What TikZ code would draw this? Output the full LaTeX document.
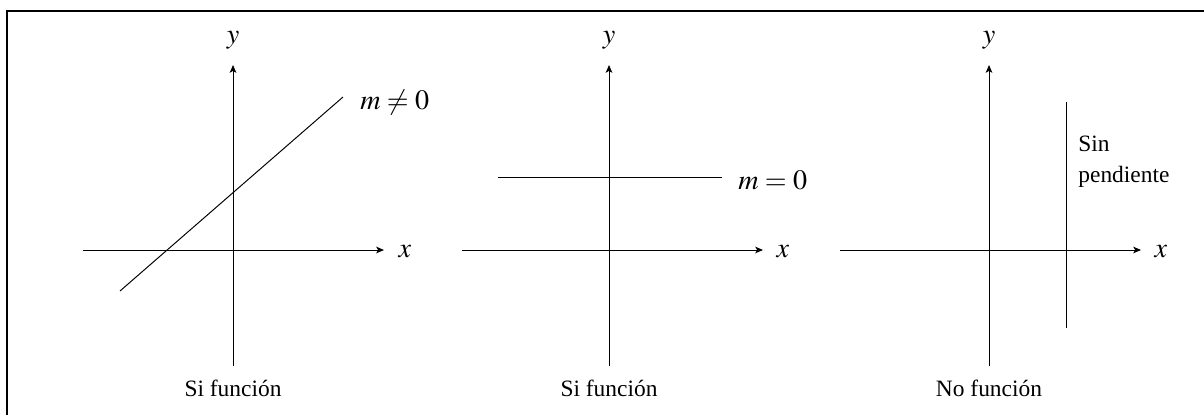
\documentclass[tikz,border=0pt]{standalone}
\usepackage{mathptmx}
\usepackage{fontspec}
\setmainfont{Liberation Serif}
\usepackage{tikz}
\usetikzlibrary{arrows.meta,positioning}

\begin{document}
\begin{tikzpicture}[
  x=0.018cm, y=-0.018cm,
  axis/.style={-{Stealth[length=4pt,width=3.4pt,inset=1pt]},line width=0.5pt},
  recta/.style={line width=0.5pt},
  lbl/.style={inner sep=0pt,font=\Large},
  leyenda/.style={inner sep=0pt,font=\fontsize{12}{16}\selectfont,align=left}
]
\useasboundingbox (0,0) rectangle (1204,415);
% frame
\coordinate (f0) at (7,11);
\coordinate (f1) at (1204,11);
\coordinate (f2) at (7,415);
\draw[line width=0.6pt] (f2) -- (f0) -- (f1);

% panel 1: m distinto de 0
\coordinate (ya0) at (233,366);
\coordinate (ya1) at (233,65);
\coordinate (xa0) at (83,250);
\coordinate (xa1) at (384,250);
\coordinate (la0) at (120,291);
\coordinate (la1) at (343,97);
\draw[axis] (ya0) -- (ya1);
\draw[axis] (xa0) -- (xa1);
\draw[recta] (la0) -- (la1);
\node[lbl] (ya) at (233,40) {$y$};
\node[lbl] (xa) at (405,252) {$x$};
\node[lbl,anchor=west] (ma) at (360,102) {$m\neq 0$};
\node[leyenda] (ca) at (233,388) {Si función};

% panel 2: m = 0
\coordinate (yb0) at (609,366);
\coordinate (yb1) at (609,65);
\coordinate (xb0) at (462,250);
\coordinate (xb1) at (763,250);
\coordinate (lb0) at (498,177);
\coordinate (lb1) at (722,177);
\draw[axis] (yb0) -- (yb1);
\draw[axis] (xb0) -- (xb1);
\draw[recta] (lb0) -- (lb1);
\node[lbl] (yb) at (609,40) {$y$};
\node[lbl] (xb) at (783,252) {$x$};
\node[lbl,anchor=west] (mb) at (738,180) {$m=0$};
\node[leyenda] (cb) at (609,388) {Si función};

% panel 3: sin pendiente
\coordinate (yc0) at (989,366);
\coordinate (yc1) at (989,65);
\coordinate (xc0) at (840,250);
\coordinate (xc1) at (1141,250);
\coordinate (lc0) at (1066,102);
\coordinate (lc1) at (1066,328);
\draw[axis] (yc0) -- (yc1);
\draw[axis] (xc0) -- (xc1);
\draw[recta] (lc0) -- (lc1);
\node[lbl] (yc) at (989,40) {$y$};
\node[lbl] (xc) at (1161,252) {$x$};
\node[leyenda,anchor=west] (mc) at (1078,162) {Sin\\pendiente};
\node[leyenda] (cc) at (989,388) {No función};
\end{tikzpicture}
\end{document}
